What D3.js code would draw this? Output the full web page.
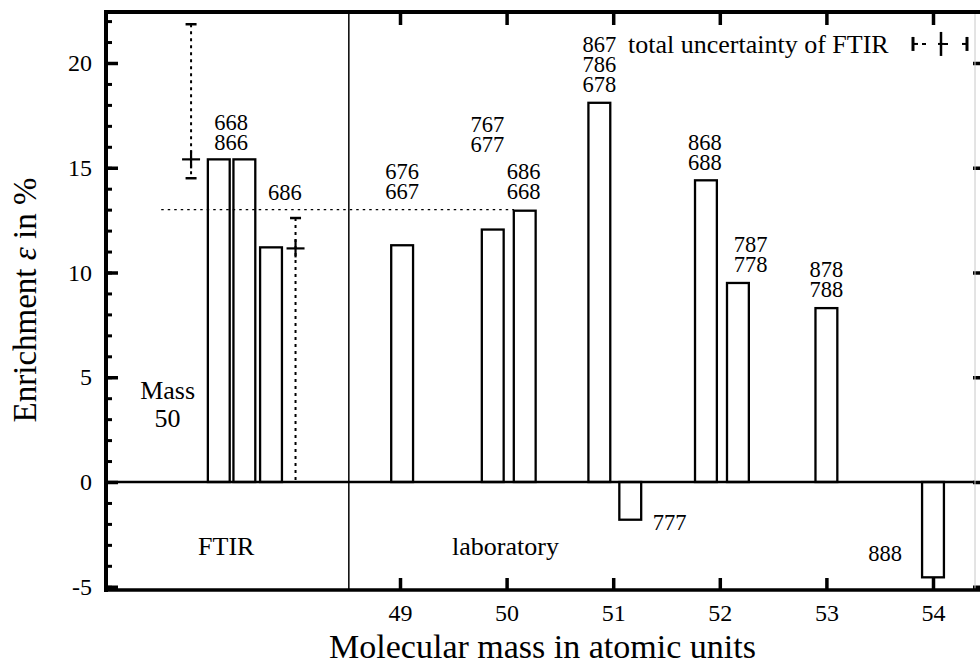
<!DOCTYPE html>
<html><head><meta charset="utf-8">
<script src="https://cdn.jsdelivr.net/npm/d3@7"></script>
<style>
body{margin:0;background:#fff}
svg{display:block}
svg text{font-family:"Liberation Serif","DejaVu Serif",serif !important;fill:#000}
</style>
</head><body>
<svg id="c" width="980" height="667" font-family="Liberation Serif, DejaVu Serif, serif"></svg>
<script>
// ---------- data ----------
const barMass  = [47.30, 47.54, 47.79, 49.02, 49.87, 50.17, 50.87, 51.16, 51.87, 52.17, 53.00, 54.00];
const barValue = [15.4, 15.4, 11.2, 11.3, 12.05, 12.95, 18.1, -1.8, 14.4, 9.5, 8.3, -4.55];
const barWidth = 0.205;

const errMass  = [47.04, 48.02];
const errValue = [15.4, 11.15];
const errLow   = [14.5, 0];
const errHigh  = [21.85, 12.6];

const refValue = 13, refFrom = 46.76, refTo = 50.07;
const dividerMass = 48.52;

const labelText  = [["668","866"], ["686"], ["676","667"], ["767","677"], ["686","668"], ["867","786","678"],
                    ["777"], ["868","688"], ["787","778"], ["878","788"], ["888"]];
const labelMass  = [47.415, 47.92, 49.02, 49.82, 50.16, 50.87, 51.53, 51.86, 52.29, 53.0, 53.55];
const labelValue = [16.23, 13.84, 13.89, 16.13, 13.89, 19.0, -1.91, 15.27, 10.41, 9.21, -3.39];

const regionText  = ["FTIR", "laboratory", "Mass", "50"];
const regionMass  = [47.37, 49.99, 46.82, 46.82];
const regionValue = [-3.05, -3.05, 4.39, 3.05];

const xTicks = [49, 50, 51, 52, 53, 54];
const yMajor = [-5, 0, 5, 10, 15, 20];
const yMinor = d3.range(-5, 23);

const xTitle = "Molecular mass in atomic units";
const legendText = "total uncertainty of FTIR";

// ---------- scales ----------
const svg = d3.select("#c");
const L = 106, R = 975, T = 12, B = 590;
const x = d3.scaleLinear().domain([46.242, 54.394]).range([L, R]);
const y = d3.scaleLinear().domain([-5.155, 22.434]).range([B, T]);

// ---------- bars ----------
svg.append("g").selectAll("rect").data(barMass).join("rect")
  .attr("x", (m) => x(m - barWidth/2))
  .attr("width", (m) => x(m + barWidth/2) - x(m - barWidth/2))
  .attr("y", (m,i) => y(Math.max(0, barValue[i])))
  .attr("height", (m,i) => Math.abs(y(barValue[i]) - y(0)))
  .attr("fill", "#fff").attr("stroke", "#000").attr("stroke-width", 2.3);

// ---------- reference dotted line ----------
svg.append("line")
  .attr("x1", x(refFrom)).attr("x2", x(refTo))
  .attr("y1", y(refValue)).attr("y2", y(refValue))
  .attr("stroke", "#000").attr("stroke-width", 1.4).attr("stroke-dasharray", "2.5,4");

// ---------- divider ----------
svg.append("line")
  .attr("x1", x(dividerMass)).attr("x2", x(dividerMass))
  .attr("y1", T).attr("y2", B)
  .attr("stroke", "#000").attr("stroke-width", 1.5);

// ---------- zero line ----------
svg.append("line")
  .attr("x1", L).attr("x2", R).attr("y1", y(0)).attr("y2", y(0))
  .attr("stroke", "#000").attr("stroke-width", 2.5);

// ---------- error bars ----------
const eg = svg.append("g").attr("stroke", "#000");
errMass.forEach((m, i) => {
  const cx = x(m);
  eg.append("line").attr("x1", cx).attr("x2", cx)
    .attr("y1", y(errHigh[i])).attr("y2", y(errLow[i]))
    .attr("stroke-width", 2).attr("stroke-dasharray", "3,4");
  [errHigh[i], errLow[i]].forEach(v => {
    if (v > 0) eg.append("line").attr("x1", cx - 5.5).attr("x2", cx + 5.5)
      .attr("y1", y(v)).attr("y2", y(v)).attr("stroke-width", 2.5);
  });
  eg.append("line").attr("x1", cx - 9).attr("x2", cx + 9)
    .attr("y1", y(errValue[i])).attr("y2", y(errValue[i])).attr("stroke-width", 2.2);
  eg.append("line").attr("x1", cx).attr("x2", cx)
    .attr("y1", y(errValue[i]) - 9).attr("y2", y(errValue[i]) + 9).attr("stroke-width", 2.2);
});

// ---------- axes ----------
function styleAxis(g){
  g.select(".domain").remove();
  g.attr("font-family", null);
  g.selectAll("line").attr("stroke","#000");
}
const fmt = (d) => String(d);

svg.append("g").attr("transform", `translate(${L},0)`)
  .call(d3.axisLeft(y).tickValues(yMinor).tickSizeInner(-6).tickSizeOuter(0).tickFormat(""))
  .call(styleAxis).call(g => g.selectAll("line").attr("stroke-width", 3));
svg.append("g").attr("transform", `translate(${L},0)`)
  .call(d3.axisLeft(y).tickValues(yMajor).tickSizeInner(-12).tickSizeOuter(0).tickPadding(14).tickFormat(fmt))
  .call(styleAxis)
  .call(g => g.selectAll("line").attr("stroke-width", 3.5))
  .call(g => g.selectAll("text").attr("font-size", 24));

svg.append("g").attr("transform", `translate(0,${B})`)
  .call(d3.axisBottom(x).tickValues(xTicks).tickSizeInner(-12).tickSizeOuter(0).tickPadding(14).tickFormat(fmt))
  .call(styleAxis)
  .call(g => g.selectAll("line").attr("stroke-width", 3.5))
  .call(g => g.selectAll("text").attr("font-size", 24));

svg.append("g").attr("transform", `translate(0,${T})`)
  .call(d3.axisTop(x).tickValues(xTicks).tickSizeInner(-13).tickSizeOuter(0).tickFormat(""))
  .call(styleAxis).call(g => g.selectAll("line").attr("stroke-width", 3.5));

svg.append("g").attr("transform", `translate(${R - 2},0)`)
  .call(d3.axisRight(y).tickValues(yMajor).tickSizeInner(7).tickSizeOuter(0).tickFormat(""))
  .call(styleAxis).call(g => g.selectAll("line").attr("stroke-width", 3.5));

// frame
svg.append("line").attr("x1", R).attr("x2", R).attr("y1", T).attr("y2", B)
  .attr("stroke", "#c8c8c8").attr("stroke-width", 1);
svg.append("line").attr("x1", L - 2).attr("x2", 980).attr("y1", T).attr("y2", T)
  .attr("stroke", "#000").attr("stroke-width", 4);
svg.append("line").attr("x1", L - 2).attr("x2", 980).attr("y1", B).attr("y2", B)
  .attr("stroke", "#000").attr("stroke-width", 3.5);
svg.append("line").attr("x1", L).attr("x2", L).attr("y1", T - 2).attr("y2", B + 2)
  .attr("stroke", "#000").attr("stroke-width", 4);

// ---------- labels ----------
const lineGap = 20;
const lg = svg.append("g").attr("text-anchor", "middle").attr("font-size", 22.5);
labelText.forEach((lines, i) => {
  const n = lines.length;
  lines.forEach((t, j) => {
    lg.append("text").attr("x", x(labelMass[i]))
      .attr("y", y(labelValue[i]) - (n - 1 - j) * lineGap)
      .attr("dy", "0.35em").text(t);
  });
});

const rg = svg.append("g").attr("text-anchor", "middle").attr("font-size", 26);
regionText.forEach((t, i) => {
  rg.append("text").attr("x", x(regionMass[i])).attr("y", y(regionValue[i])).attr("dy", "0.35em").text(t);
});

// legend
const legY = y(labelValue[5]) - 2 * lineGap;
svg.append("text").attr("x", 628).attr("y", legY).attr("dy", "0.35em")
  .attr("font-size", 26).text(legendText);
const lgx1 = 913, lgx2 = 967, lgc = 941;
const sym = svg.append("g").attr("stroke", "#000");
sym.append("line").attr("x1", lgx1).attr("x2", lgx2).attr("y1", legY).attr("y2", legY)
  .attr("stroke-width", 2).attr("stroke-dasharray", "0,9,4,9");
sym.append("line").attr("x1", lgx1).attr("x2", lgx1 + 5).attr("y1", legY).attr("y2", legY).attr("stroke-width", 2);
sym.append("line").attr("x1", lgx2 - 5).attr("x2", lgx2).attr("y1", legY).attr("y2", legY).attr("stroke-width", 2);
sym.append("line").attr("x1", lgc - 3).attr("x2", lgc + 3).attr("y1", legY).attr("y2", legY).attr("stroke-width", 2);
[lgx1, lgx2].forEach(px => sym.append("line").attr("x1", px).attr("x2", px)
  .attr("y1", legY - 7).attr("y2", legY + 7).attr("stroke-width", 3));
sym.append("line").attr("x1", lgc).attr("x2", lgc).attr("y1", legY - 12).attr("y2", legY + 12).attr("stroke-width", 2.5);

// ---------- titles ----------
svg.append("text").attr("x", (L + R) / 2 + 2).attr("y", 658).attr("text-anchor", "middle")
  .attr("font-size", 34).text(xTitle);

const yt = svg.append("text").attr("transform", "translate(36,300) rotate(-90)")
  .attr("text-anchor", "middle").attr("font-size", 33);
yt.append("tspan").text("Enrichment ");
yt.append("tspan").attr("font-style", "italic").text("ε");
yt.append("tspan").text(" in %");
</script>
</body></html>
